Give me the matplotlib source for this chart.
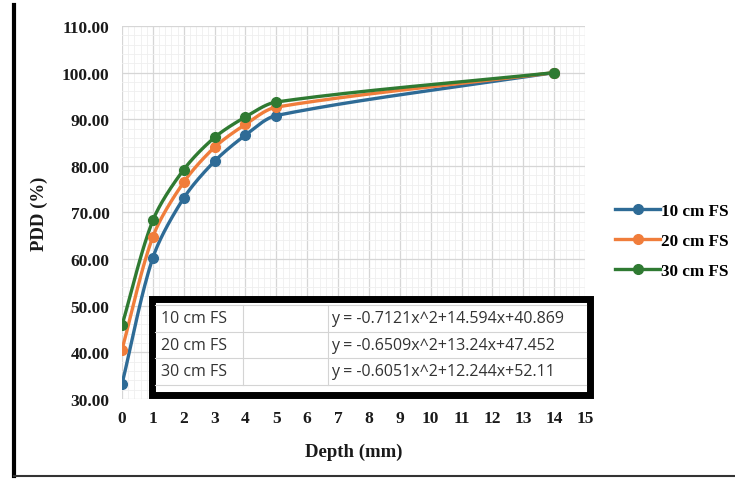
import numpy as np
import matplotlib
matplotlib.use("agg")
from matplotlib import pyplot as plt
from matplotlib.lines import Line2D
from matplotlib.patches import Rectangle

# Data
depth = [0, 1, 2, 3, 4, 5, 14]
pdd_10 = [33.2, 60.3, 73.1, 81.0, 86.6, 90.8, 100.0]
pdd_20 = [40.6, 64.8, 76.5, 84.0, 88.9, 92.6, 100.0]
pdd_30 = [45.8, 68.3, 79.2, 86.1, 90.5, 93.7, 100.0]
series_names = ["10 cm FS", "20 cm FS", "30 cm FS"]
colors = ["#2e6b96", "#f07d3b", "#2f7a32"]
equations = [
    "y = -0.7121x^2+14.594x+40.869",
    "y = -0.6509x^2+13.24x+47.452",
    "y = -0.6051x^2+12.244x+52.11",
]

W, H = 735, 481
X_PX, Y_PX = 30.9, 4.66   # pixels per data unit, used for the smoothing


def smooth(x, y, n=40, k=0.3):
    """Bezier curve through the points in screen space (Excel-like smoothing)."""
    p = np.column_stack([np.asarray(x, float) * X_PX, np.asarray(y, float) * Y_PX])
    tan = np.empty_like(p)
    tan[0] = p[1] - p[0]
    tan[-1] = p[-1] - p[-2]
    tan[1:-1] = p[2:] - p[:-2]
    tan /= np.linalg.norm(tan, axis=1)[:, None]
    t = np.linspace(0, 1, n)[:, None]
    out = []
    for i in range(len(p) - 1):
        L = np.linalg.norm(p[i + 1] - p[i]) * k
        c0, c3 = p[i], p[i + 1]
        c1 = c0 + tan[i] * L
        c2 = c3 - tan[i + 1] * L
        seg = ((1 - t) ** 3 * c0 + 3 * (1 - t) ** 2 * t * c1
               + 3 * (1 - t) * t ** 2 * c2 + t ** 3 * c3)
        out.append(seg)
    out = np.vstack(out)
    return out[:, 0] / X_PX, out[:, 1] / Y_PX


fig = plt.figure(figsize=(W / 100, H / 100), dpi=100)
fig.set_facecolor("white")

# plot area in pixels: x 122..585, y 27..400
ax = fig.add_axes((122 / W, 1 - 400 / H, (585 - 122) / W, (400 - 27) / H))
ax.set_xlim(0, 15)
ax.set_ylim(30, 110)
ax.set_xticks(range(0, 16))
ax.set_yticks(range(30, 111, 10))
ax.set_xticks(np.arange(0, 15.01, 0.2), minor=True)
ax.set_yticks(np.arange(30, 110.01, 2), minor=True)
ax.set_yticklabels([f"{v:.2f}" for v in range(30, 111, 10)])
ax.grid(which="major", color="#d6d6d6", lw=0.9)
ax.grid(which="minor", color="#efefef", lw=0.6)
ax.set_axisbelow(True)
for s in ax.spines.values():
    s.set_visible(False)
ax.tick_params(which="both", length=0)
ax.tick_params(axis="x", pad=8)
ax.tick_params(axis="y", pad=9)

for lab in ax.get_xticklabels() + ax.get_yticklabels():
    lab.set_fontfamily("Liberation Serif")
    lab.set_fontweight("bold")
    lab.set_fontsize(12.5)
    lab.set_color("#1a1a1a")

label_font = {"family": "Liberation Serif", "weight": "bold", "size": 13.5}
ax.set_xlabel("Depth (mm)", fontdict=label_font, labelpad=12, color="#1a1a1a")
ax.set_ylabel("PDD (%)", fontdict=label_font, labelpad=10, color="#1a1a1a")

handles = []
for vals, name, c in zip([pdd_10, pdd_20, pdd_30], series_names, colors):
    sx, sy = smooth(depth, vals)
    ax.plot(sx, sy, color=c, lw=2.4, solid_capstyle="round", zorder=3)
    ax.plot(depth, vals, "o", color=c, ms=7, zorder=4)
    handles.append(Line2D([], [], color=c, lw=2.4, marker="o", ms=7))

fig.legend(handles, series_names, loc="center left",
           bbox_to_anchor=(600 / W, 1 - 242 / H), frameon=False,
           prop={"family": "Liberation Serif", "weight": "bold", "size": 12.3},
           handlelength=2.6, handletextpad=0.05, labelspacing=0.8)

# equation table with thick black frame
fig.add_artist(Rectangle((152 / W + 0.004, 1 - 396 / H - 0.008),
                         (590 - 152) / W, (396 - 300) / H,
                         transform=fig.transFigure, facecolor="#9a9a9a",
                         edgecolor="none", alpha=0.5, zorder=5))
fig.add_artist(Rectangle((152 / W, 1 - 396 / H), (590 - 152) / W,
                         (396 - 300) / H, transform=fig.transFigure,
                         facecolor="white", edgecolor="black", lw=5,
                         zorder=6))
row_tops = [306, 333, 359, 386]
col_x = [155, 243, 328, 586]
for yy in row_tops:
    fig.add_artist(Line2D([col_x[0] / W, col_x[-1] / W], [1 - yy / H] * 2,
                          color="#d4d4d4", lw=0.8, zorder=7))
for xx in col_x[1:3]:
    fig.add_artist(Line2D([xx / W] * 2, [1 - row_tops[0] / H, 1 - row_tops[-1] / H],
                          color="#d4d4d4", lw=0.8, zorder=7))
for i, (name, eq) in enumerate(zip(series_names, equations)):
    yc = 1 - (row_tops[i] + row_tops[i + 1]) / 2 / H
    fig.text(161 / W, yc, name, ha="left", va="center", fontsize=11.5,
             family="Open Sans", color="#333333", zorder=8)
    fig.text(331 / W, yc, eq, ha="left", va="center", fontsize=11.5,
             family="Open Sans", color="#333333", zorder=8)

# outer black frame lines (left and bottom)
fig.add_artist(Line2D([13.5 / W] * 2, [1 - 6 / H, 1 - 477 / H], color="black", lw=3))
fig.add_artist(Line2D([13.5 / W, 1], [1 - 477 / H] * 2, color="#333333", lw=1.5))

fig.savefig("out.png", dpi=100)
